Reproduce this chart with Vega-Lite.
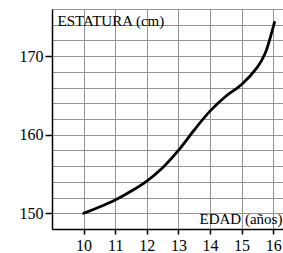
{
  "$schema": "https://vega.github.io/schema/vega-lite/v6.json",
  "width": 231,
  "height": 220,
  "autosize": {"type": "none"},
  "padding": {"left": 52, "top": 9, "right": 0, "bottom": 24},
  "background": "white",
  "config": {
    "view": {"stroke": null},
    "axis": {
      "labelFont": "Liberation Serif",
      "labelFontSize": 16,
      "labelColor": "black",
      "titleFont": "Liberation Serif",
      "titleFontSize": 15,
      "titleFontWeight": "normal",
      "titleColor": "black",
      "gridColor": "#949494",
      "gridOpacity": 1,
      "gridWidth": 1,
      "domainColor": "black",
      "domainWidth": 1.5,
      "tickColor": "black",
      "tickWidth": 1.5
    }
  },
  "data": {
    "values": [
      {"edad": 10, "estatura": 150},
      {"edad": 10.5, "estatura": 150.8},
      {"edad": 11, "estatura": 151.7},
      {"edad": 11.5, "estatura": 152.8},
      {"edad": 12, "estatura": 154.1},
      {"edad": 12.5, "estatura": 155.8},
      {"edad": 13, "estatura": 158.0},
      {"edad": 13.5, "estatura": 160.6},
      {"edad": 14, "estatura": 163.0},
      {"edad": 14.5, "estatura": 164.9},
      {"edad": 15, "estatura": 166.4},
      {"edad": 15.5, "estatura": 168.6},
      {"edad": 15.75, "estatura": 170.4},
      {"edad": 16, "estatura": 173.7},
      {"edad": 16.04, "estatura": 174.3}
    ]
  },
  "mark": {"type": "line", "color": "black", "strokeWidth": 2.8, "interpolate": "catmull-rom", "strokeCap": "round"},
  "encoding": {
    "x": {
      "field": "edad",
      "type": "quantitative",
      "scale": {"domain": [9, 16.31], "nice": false, "zero": false},
      "axis": {
        "title": "EDAD (años)",
        "titleX": 147,
        "titleY": -6,
        "titleAlign": "left",
        "titleBaseline": "alphabetic",
        "titleAnchor": null,
        "values": [9, 9.5, 10, 10.5, 11, 11.5, 12, 12.5, 13, 13.5, 14, 14.5, 15, 15.5, 16],
        "format": "d",
        "labelExpr": "datum.value % 1 === 0 && datum.value >= 10 ? datum.label : ''",
        "tickOpacity": {"condition": {"test": "datum.value % 1 === 0 && datum.value >= 10", "value": 1}, "value": 0},
        "tickSize": 5,
        "labelPadding": 3,
        "grid": true,
        "labelFlush": false
      }
    },
    "y": {
      "field": "estatura",
      "type": "quantitative",
      "scale": {"domain": [148, 176], "nice": false, "zero": false},
      "axis": {
        "title": "ESTATURA (cm)",
        "titleAngle": 0,
        "titleX": 5,
        "titleY": 16,
        "titleAlign": "left",
        "titleBaseline": "alphabetic",
        "titleAnchor": null,
        "values": [148, 150, 152, 154, 156, 158, 160, 162, 164, 166, 168, 170, 172, 174, 176],
        "format": "d",
        "labelExpr": "datum.value % 10 === 0 ? datum.label : ''",
        "tickOpacity": {"condition": {"test": "datum.value % 10 === 0", "value": 1}, "value": 0},
        "tickSize": 7,
        "labelPadding": 2,
        "grid": true,
        "labelFlush": false
      }
    }
  }
}
